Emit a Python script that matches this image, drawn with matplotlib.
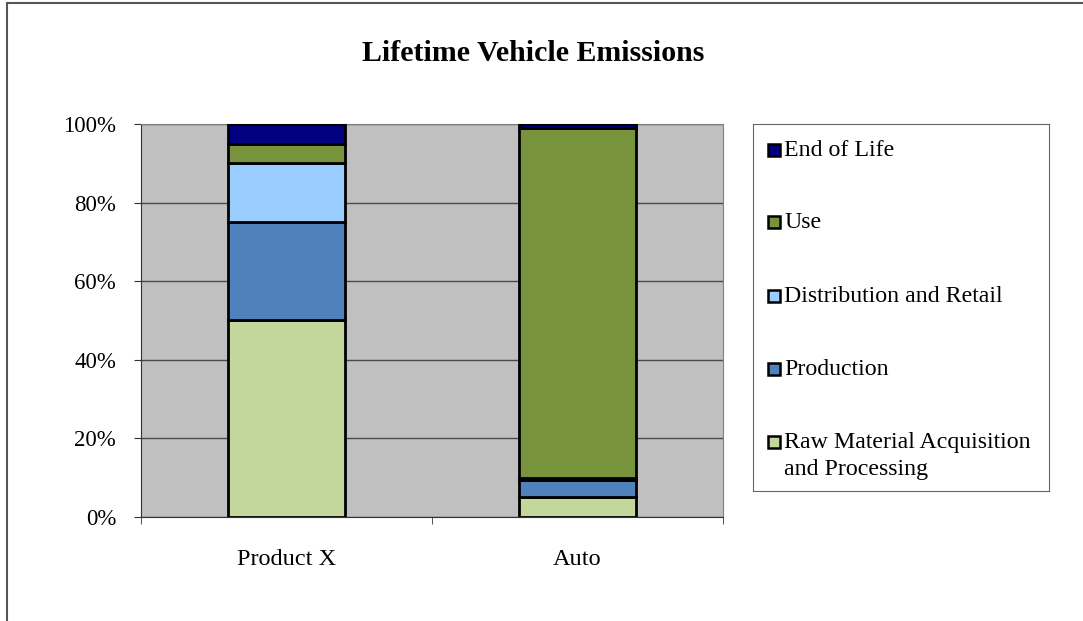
import matplotlib.pyplot as plt
from matplotlib.patches import Rectangle
import numpy as np

plt.rcParams['font.family'] = ['Liberation Serif', 'DejaVu Serif']

# data (percent of lifetime emissions)
products = ['Product X', 'Auto']
stages = ['Raw Material Acquisition\nand Processing', 'Production',
          'Distribution and Retail', 'Use', 'End of Life']
raw_material = [50, 5.2]
production = [25, 4.2]
distribution = [15, 0.5]
use = [5, 89.1]
end_of_life = [5, 1.0]
colors = ['#C3D69B', '#4F81BD', '#99CCFF', '#77933C', '#000080']

series = [raw_material, production, distribution, use, end_of_life]

fig = plt.figure(figsize=(10.83, 6.21), dpi=100)
ax = fig.add_axes([0.1302, 0.1675, 0.5374, 0.6328])
ax.set_facecolor('#C0C0C0')

x = np.arange(len(products))
bottom = np.zeros(len(products))
for vals, col in zip(series, colors):
    ax.bar(x, vals, width=0.4, bottom=bottom, color=col, edgecolor='black',
           linewidth=2, zorder=3)
    bottom += np.array(vals)

ax.set_xlim(-0.5, 1.5)
ax.set_ylim(0, 100)
ax.set_yticks(np.arange(0, 101, 20))
ax.set_yticklabels([f'{v}%' for v in range(0, 101, 20)])
ax.yaxis.grid(True, color='#4a4a4a', linewidth=1, zorder=0)
ax.set_axisbelow(True)

ax.set_xticks(x)
ax.set_xticklabels(products)
ax.set_xticks([-0.5, 0.5, 1.5], minor=True)
ax.tick_params(axis='x', which='major', length=0, pad=23, labelsize=17.5)
ax.tick_params(axis='x', which='minor', length=5, direction='out', color='#333333')
ax.tick_params(axis='y', length=5, direction='out', pad=13, labelsize=16.5, color='#333333')

for side in ['left', 'bottom']:
    ax.spines[side].set_color('#333333')
for side in ['top', 'right']:
    ax.spines[side].set_color('#808080')

fig.text(0.492, 0.914, 'Lifetime Vehicle Emissions', ha='center', va='center',
         fontsize=21.5, fontweight='bold')

# legend box drawn by hand to match spacing
lg = fig.add_axes([0.6953, 0.2093, 0.2733, 0.5910])
lg.set_xlim(0, 296)
lg.set_ylim(367, 0)
lg.set_xticks([])
lg.set_yticks([])
for s in lg.spines.values():
    s.set_color('#666666')
label_y = [26, 98, 172, 245, 318]
for lbl, col, yy in zip(reversed(stages), reversed(colors), label_y):
    lg.add_patch(Rectangle((15, yy - 6), 12, 12, facecolor=col,
                           edgecolor='black', linewidth=1.8))
    first = lbl.split('\n')[0]
    lg.text(31, yy, first, va='center', ha='left', fontsize=17.2)
    if '\n' in lbl:
        lg.text(31, yy + 27, lbl.split('\n')[1], va='center', ha='left', fontsize=17.2)

# outer chart border (right and bottom edges fall outside the image)
fig.patches.append(Rectangle((7 / 1083, -0.1), 2, 1.1 - 3 / 621, transform=fig.transFigure,
                             fill=False, edgecolor='#555555', linewidth=1.5))

fig.savefig('out.png', dpi=100)
